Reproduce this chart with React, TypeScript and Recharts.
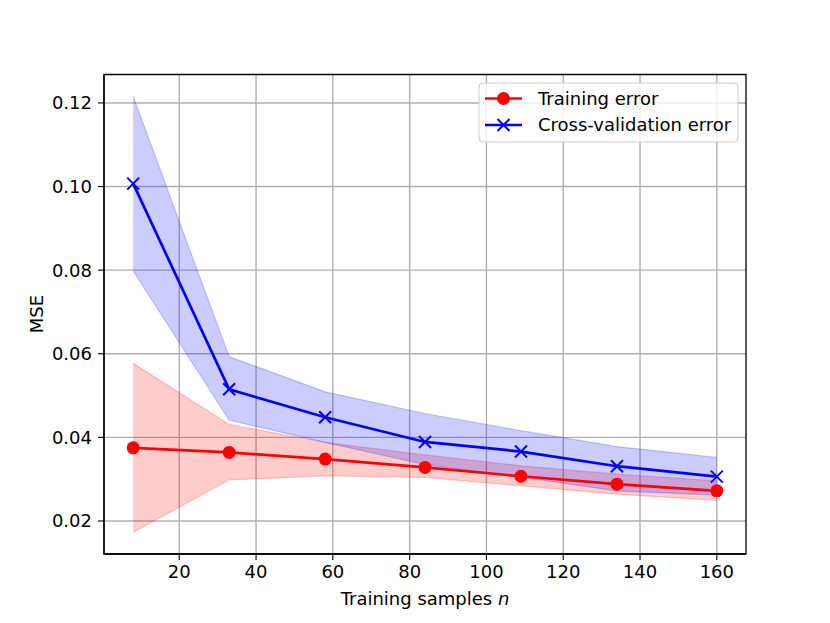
import React from 'react';
import { ComposedChart, Line, Area, XAxis, YAxis, CartesianGrid, ReferenceArea, Label } from 'recharts';

const trainingSamples = [8, 33, 58, 84, 109, 134, 160];
const trainMean = [0.0375, 0.0364, 0.0348, 0.0328, 0.0307, 0.0288, 0.0272];
const trainUpper = [0.0577, 0.0431, 0.0388, 0.0358, 0.0332, 0.0312, 0.0296];
const trainLower = [0.0173, 0.0298, 0.0308, 0.0304, 0.0284, 0.0264, 0.0249];
const cvMean = [0.1007, 0.0515, 0.0448, 0.0389, 0.0366, 0.0331, 0.0306];
const cvUpper = [0.1216, 0.0593, 0.0509, 0.0457, 0.0416, 0.0378, 0.0352];
const cvLower = [0.0798, 0.0441, 0.0388, 0.0335, 0.0305, 0.0272, 0.0262];

const xTicks = [20, 40, 60, 80, 100, 120, 140, 160];
const yTicks = [0.02, 0.04, 0.06, 0.08, 0.1, 0.12];
const xDomain: [number, number] = [0.4, 167.6];
const yDomain: [number, number] = [0.0121, 0.1268];

const data = trainingSamples.map((x, i) => ({
  x,
  trainMean: trainMean[i],
  trainBand: [trainLower[i], trainUpper[i]],
  cvMean: cvMean[i],
  cvBand: [cvLower[i], cvUpper[i]],
}));

const FONT = '"DejaVu Sans", sans-serif';
const RED = '#ff0000';
const BLUE = '#0000ff';

const RedDot = (props: any) => {
  const { cx, cy } = props;
  if (cx == null || cy == null) return <g />;
  return <circle cx={cx} cy={cy} r={6.5} fill={RED} stroke="none" />;
};

const XDot = (props: any) => {
  const { cx, cy } = props;
  if (cx == null || cy == null) return <g />;
  const s = 6;
  return (
    <g>
      <line x1={cx - s} y1={cy - s} x2={cx + s} y2={cy + s} stroke={BLUE} strokeWidth={2} />
      <line x1={cx - s} y1={cy + s} x2={cx + s} y2={cy - s} stroke={BLUE} strokeWidth={2} />
    </g>
  );
};

const XLabel = (props: any) => {
  const vb = props.viewBox || {};
  const cx = (vb.x || 0) + (vb.width || 0) / 2;
  return (
    <text x={cx} y={605} textAnchor="middle" fontFamily={FONT} fontSize={18} fill="#000">
      Training samples <tspan fontStyle="italic">n</tspan>
    </text>
  );
};

const YLabel = (props: any) => {
  const cy = 314;
  const x = 43;
  return (
    <text x={x} y={cy} transform={`rotate(-90, ${x}, ${cy})`} textAnchor="middle" fontFamily={FONT} fontSize={18} fill="#000">
      MSE
    </text>
  );
};

const LegendBox = () => (
  <svg width={262} height={62} style={{ position: 'absolute', left: 478, top: 82 }}>
    <rect x={1} y={1} width={259} height={59} rx={4} ry={4} fill="#ffffff" fillOpacity={0.8} stroke="#cccccc" strokeWidth={1} />
    <line x1={7} y1={16.5} x2={44} y2={16.5} stroke={RED} strokeWidth={2.7} />
    <circle cx={25.5} cy={16.5} r={6.5} fill={RED} />
    <text x={60} y={16.5} dy="0.35em" fontFamily={FONT} fontSize={18} fill="#000">Training error</text>
    <line x1={7} y1={43} x2={44} y2={43} stroke={BLUE} strokeWidth={2.7} />
    <line x1={19.5} y1={37} x2={31.5} y2={49} stroke={BLUE} strokeWidth={2} />
    <line x1={19.5} y1={49} x2={31.5} y2={37} stroke={BLUE} strokeWidth={2} />
    <text x={60} y={43} dy="0.35em" fontFamily={FONT} fontSize={18} fill="#000">Cross-validation error</text>
  </svg>
);

export default function App() {
  return (
    <div style={{ position: 'absolute', left: 0, top: 0, width: 830, height: 623, background: '#fff' }}>
      <ComposedChart
        width={830}
        height={623}
        data={data}
        margin={{ top: 74.5, right: 84, bottom: 29, left: 44 }}
        style={{ fontFamily: FONT }}
      >
        <CartesianGrid stroke="#b0b0b0" strokeWidth={1.4} verticalValues={xTicks} horizontalValues={yTicks} />
        <XAxis
          dataKey="x"
          type="number"
          domain={xDomain}
          ticks={xTicks}
          allowDataOverflow
          height={40}
          tickSize={6}
          tickMargin={5}
          axisLine={{ stroke: '#000', strokeWidth: 1.3 }}
          tickLine={{ stroke: '#000', strokeWidth: 1.1 }}
          tick={{ fill: '#000', fontSize: 18, fontFamily: FONT }}
        >
          <Label content={<XLabel />} />
        </XAxis>
        <YAxis
          type="number"
          domain={yDomain}
          ticks={yTicks}
          allowDataOverflow
          width={60}
          tickSize={6}
          tickMargin={6}
          tickFormatter={(v: number) => v.toFixed(2)}
          axisLine={{ stroke: '#000', strokeWidth: 1.3 }}
          tickLine={{ stroke: '#000', strokeWidth: 1.1 }}
          tick={{ fill: '#000', fontSize: 18, fontFamily: FONT }}
        >
          <Label content={<YLabel />} />
        </YAxis>
        <Area
          type="linear"
          dataKey="trainBand"
          fill={RED}
          fillOpacity={0.2}
          stroke={RED}
          strokeOpacity={0.2}
          strokeWidth={1.2}
          isAnimationActive={false}
          activeDot={false}
        />
        <Area
          type="linear"
          dataKey="cvBand"
          fill={BLUE}
          fillOpacity={0.2}
          stroke={BLUE}
          strokeOpacity={0.2}
          strokeWidth={1.2}
          isAnimationActive={false}
          activeDot={false}
        />
        <Line
          type="linear"
          dataKey="trainMean"
          stroke={RED}
          strokeWidth={2.7}
          dot={<RedDot />}
          activeDot={false}
          isAnimationActive={false}
        />
        <Line
          type="linear"
          dataKey="cvMean"
          stroke={BLUE}
          strokeWidth={2.7}
          dot={<XDot />}
          activeDot={false}
          isAnimationActive={false}
        />
        <ReferenceArea
          x1={xDomain[0]}
          x2={xDomain[1]}
          y1={yDomain[0]}
          y2={yDomain[1]}
          fill="none"
          fillOpacity={0}
          stroke="#000"
          strokeWidth={1.3}
          ifOverflow="visible"
        />
      </ComposedChart>
      <LegendBox />
    </div>
  );
}
